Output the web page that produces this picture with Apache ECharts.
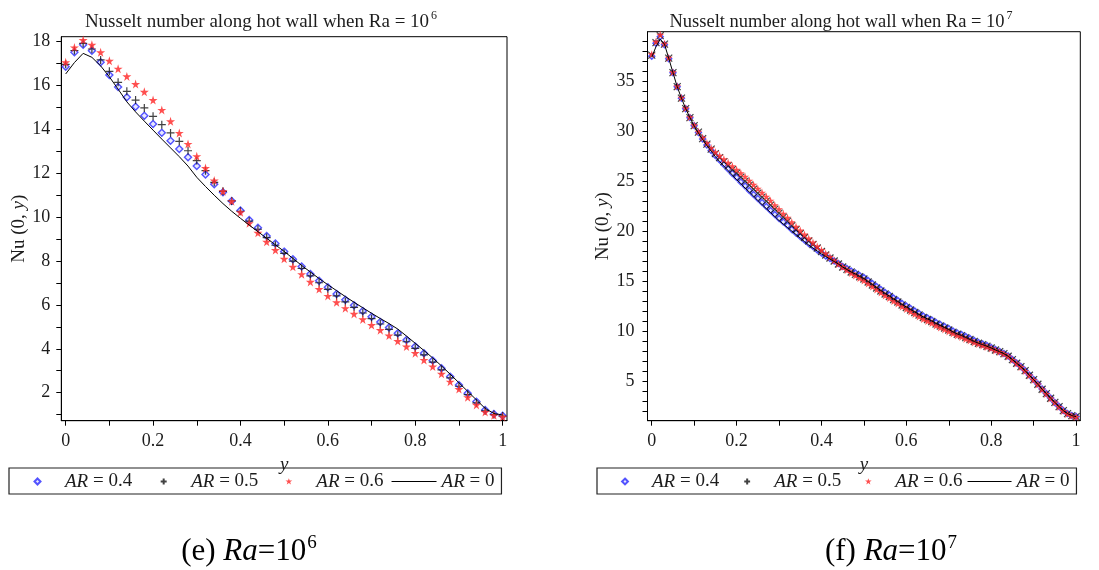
<!DOCTYPE html>
<html>
<head>
<meta charset="utf-8">
<script src="https://cdn.jsdelivr.net/npm/echarts@6/dist/echarts.min.js"></script>
<style>
  html, body { margin: 0; padding: 0; background: #fff; }
  #chart { width: 1099px; height: 570px; }
</style>
</head>
<body>
<div id="chart"></div>
<script>
// y positions along the hot wall
const yPos6 = [0,0.02,0.04,0.06,0.08,0.1,0.12,0.14,0.16,0.18,0.2,0.22,0.24,0.26,0.28,0.3,0.32,0.34,0.36,0.38,0.4,0.42,0.44,0.46,0.48,0.5,0.52,0.54,0.56,0.58,0.6,0.62,0.64,0.66,0.68,0.7,0.72,0.74,0.76,0.78,0.8,0.82,0.84,0.86,0.88,0.9,0.92,0.94,0.96,0.98,1];
const yPos7 = [0,0.01,0.02,0.03,0.04,0.05,0.06,0.07,0.08,0.09,0.1,0.11,0.12,0.13,0.14,0.15,0.16,0.17,0.18,0.19,0.2,0.21,0.22,0.23,0.24,0.25,0.26,0.27,0.28,0.29,0.3,0.31,0.32,0.33,0.34,0.35,0.36,0.37,0.38,0.39,0.4,0.41,0.42,0.43,0.44,0.45,0.46,0.47,0.48,0.49,0.5,0.51,0.52,0.53,0.54,0.55,0.56,0.57,0.58,0.59,0.6,0.61,0.62,0.63,0.64,0.65,0.66,0.67,0.68,0.69,0.7,0.71,0.72,0.73,0.74,0.75,0.76,0.77,0.78,0.79,0.8,0.81,0.82,0.83,0.84,0.85,0.86,0.87,0.88,0.89,0.9,0.91,0.92,0.93,0.94,0.95,0.96,0.97,0.98,0.99,1];

// Ra = 10^6
const nu6_ar04 = [16.86,17.52,17.86,17.59,17.07,16.48,15.94,15.47,15.04,14.63,14.25,13.85,13.48,13.11,12.73,12.33,11.95,11.5,11.14,10.74,10.3,9.87,9.52,9.14,8.8,8.43,8.08,7.75,7.41,7.1,6.8,6.5,6.23,5.98,5.72,5.46,5.22,4.97,4.71,4.4,4.1,3.8,3.46,3.11,2.73,2.35,1.97,1.59,1.21,1.03,0.95];
const nu6_ar05 = [16.97,17.6,17.93,17.67,17.17,16.65,16.15,15.74,15.34,14.98,14.6,14.22,13.84,13.46,13.03,12.58,12.12,11.59,11.18,10.74,10.27,9.82,9.45,9.07,8.72,8.35,8.0,7.66,7.32,7.01,6.71,6.41,6.14,5.89,5.63,5.37,5.13,4.88,4.62,4.32,4.02,3.72,3.39,3.04,2.67,2.29,1.91,1.53,1.17,1.0,0.93];
const nu6_ar06 = [17.06,17.74,18.08,17.86,17.52,17.13,16.77,16.42,16.07,15.72,15.34,14.89,14.37,13.84,13.34,12.78,12.24,11.67,11.18,10.73,10.22,9.72,9.29,8.88,8.5,8.1,7.74,7.4,7.05,6.72,6.41,6.12,5.85,5.59,5.34,5.08,4.85,4.6,4.35,4.1,3.8,3.49,3.19,2.86,2.5,2.16,1.79,1.44,1.12,0.97,0.9];
const nu6_ar0 = [16.53,17.05,17.47,17.29,16.9,16.4,15.84,15.26,14.8,14.38,13.97,13.56,13.16,12.76,12.33,11.82,11.4,11.0,10.62,10.27,9.95,9.64,9.34,9.04,8.74,8.44,8.12,7.8,7.5,7.2,6.92,6.65,6.38,6.12,5.87,5.62,5.38,5.15,4.9,4.58,4.25,3.92,3.58,3.22,2.84,2.45,2.06,1.67,1.28,1.05,0.98];

// Ra = 10^7
const nu7_ar04 = [37.55,38.85,39.5,38.7,37.3,35.9,34.5,33.35,32.3,31.4,30.6,29.9,29.25,28.65,28.1,27.6,27.15,26.7,26.25,25.8,25.4,24.95,24.55,24.1,23.7,23.3,22.9,22.5,22.1,21.7,21.3,20.95,20.6,20.2,19.85,19.5,19.15,18.8,18.5,18.15,17.85,17.55,17.3,17.05,16.8,16.5,
  16.3,16.05,15.85,15.6,15.4,15.1,14.8,14.5,14.2,13.9,13.65,13.35,13.1,12.8,12.55,12.3,12.05,11.8,11.55,11.35,11.15,10.9,10.7,10.5,10.3,10.05,9.85,9.7,9.5,9.3,9.1,8.9,8.75,8.6,8.4,8.2,8.0,7.8,7.55,7.2,6.85,6.5,6.1,5.65,5.2,4.75,4.25,3.8,3.35,2.9,2.5,2.1,1.8,1.6,1.5];
const nu7_ar05 = [37.65,38.9,39.6,38.75,37.35,35.9,34.5,33.35,32.3,31.4,30.6,29.95,29.3,28.75,28.25,27.8,27.4,27.0,26.6,26.2,25.85,25.45,25.05,24.65,24.25,23.85,23.45,23.05,22.65,22.25,21.85,21.45,21.05,20.6,20.2,19.8,19.4,19.05,18.7,18.35,18.0,17.65,17.35,17.05,16.75,16.45,
  16.22,15.95,15.72,15.48,15.25,14.95,14.65,14.35,14.05,13.75,13.5,13.2,12.95,12.65,12.4,12.15,11.9,11.65,11.4,11.2,11.0,10.75,10.55,10.35,10.15,9.92,9.72,9.58,9.38,9.2,9.0,8.82,8.68,8.52,8.35,8.15,7.98,7.78,7.52,7.18,6.82,6.48,6.08,5.62,5.18,4.72,4.22,3.78,3.32,2.9,2.48,2.08,1.78,1.58,1.48];
const nu7_ar06 = [37.75,39.0,39.7,38.8,37.4,35.95,34.55,33.4,32.35,31.45,30.65,30.0,29.4,28.85,28.35,27.95,27.6,27.25,26.9,26.55,26.2,25.85,25.5,25.1,24.7,24.3,23.9,23.5,23.1,22.65,22.25,21.8,21.4,20.95,20.5,20.1,19.7,19.3,18.9,18.5,18.15,17.8,17.45,17.1,16.75,16.45,
  16.15,15.85,15.6,15.35,15.1,14.8,14.5,14.2,13.9,13.6,13.35,13.05,12.8,12.5,12.25,12.0,11.75,11.5,11.25,11.05,10.85,10.6,10.4,10.2,10.0,9.8,9.6,9.45,9.25,9.1,8.9,8.75,8.6,8.45,8.3,8.1,7.95,7.75,7.5,7.15,6.8,6.45,6.05,5.6,5.15,4.7,4.2,3.75,3.3,2.9,2.45,2.05,1.75,1.55,1.45];
const nu7_ar0 = [37.45,38.5,39.25,38.75,37.35,35.9,34.5,33.35,32.3,31.4,30.55,29.85,29.2,28.6,28.05,27.5,27.0,26.55,26.1,25.65,25.2,24.8,24.35,23.95,23.55,23.1,22.7,22.3,21.9,21.5,21.1,20.75,20.4,20.05,19.7,19.35,19.0,18.65,18.35,18.05,17.75,17.5,17.25,17.0,16.75,16.45,
  16.2,15.95,15.75,15.5,15.3,15.0,14.7,14.4,14.1,13.8,13.55,13.25,13.0,12.7,12.45,12.2,11.95,11.7,11.45,11.25,11.05,10.8,10.6,10.4,10.2,9.95,9.75,9.6,9.4,9.2,9.0,8.82,8.68,8.52,8.35,8.15,7.97,7.77,7.52,7.18,6.82,6.48,6.08,5.62,5.18,4.72,4.22,3.78,3.32,2.9,2.48,2.08,1.78,1.58,1.48];

// ticks
const xTicks = [0,0.1,0.2,0.3,0.4,0.5,0.6,0.7,0.8,0.9,1];
const xLabels = [0,0.2,0.4,0.6,0.8,1];
const y6Ticks = [1,2,3,4,5,6,7,8,9,10,11,12,13,14,15,16,17,18];
const y6Labels = [2,4,6,8,10,12,14,16,18];
const y7Ticks = [2,3,4,5,6,7,8,9,10,11,12,13,14,15,16,17,18,19,20,21,22,23,24,25,26,27,28,29,30,31,32,33,34,35,36,37,38,39];
const y7Labels = [5,10,15,20,25,30,35];

const seriesNames = ['AR = 0.4', 'AR = 0.5', 'AR = 0.6', 'AR = 0'];

const serif = "'Liberation Serif', 'Times New Roman', serif";
const ink = '#1c1c1c';
const starPath = 'path://M50,0 L61,35 L98,35 L68,57 L79,91 L50,70 L21,91 L32,57 L2,35 L39,35 Z';
const plusPath = 'path://M0,5 L10,5 M5,0 L5,10';
const crossPath = 'path://M0,0 L10,10 M10,0 L0,10';

// legend icons: every path spans a 45 x 7 box so the marker sits centred in it
const legDiamond = 'path://M0,3.5 M45,3.5 M22.5,0.5 L25.5,3.5 L22.5,6.5 L19.5,3.5 Z';
const legPlus = 'path://M0,3.5 M45,3.5 M19.5,3.5 L25.5,3.5 M22.5,0.5 L22.5,6.5';
const legStar = 'path://M0,0 M45,7 M22.5,0.2 L23.3,2.6 L25.9,2.6 L23.8,4.1 L24.6,6.6 L22.5,5.1 L20.4,6.6 L21.2,4.1 L19.1,2.6 L21.7,2.6 Z';
const legLine = 'path://M0,0 M45,7 M0,3 L45,3 L45,4 L0,4 Z';

const pairs = (xs, ys) => xs.map((x, i) => [x, ys[i]]);

const chart = echarts.init(document.getElementById('chart'));

const xAxisFor = (gridIndex) => ({
  type: 'value',
  gridIndex,
  min: -0.01,
  max: 1.01,
  name: 'y',
  nameLocation: 'middle',
  nameGap: 25,
  nameTextStyle: { fontFamily: serif, fontSize: 19, fontStyle: 'italic', color: ink },
  axisLine: { onZero: false, lineStyle: { color: '#000', width: 1 } },
  axisTick: { customValues: xTicks, length: 5, lineStyle: { color: '#000' } },
  axisLabel: {
    customValues: xLabels,
    margin: 12,
    fontFamily: serif,
    fontSize: 18,
    color: ink
  },
  splitLine: { show: false }
});

const yAxisFor = (gridIndex, min, max, ticks, labels, gap, margin) => ({
  type: 'value',
  gridIndex,
  min,
  max,
  name: '{r|Nu (0, }{i|y}{r|)}',
  nameLocation: 'middle',
  nameGap: gap,
  nameTextStyle: {
    rich: {
      r: { fontFamily: serif, fontSize: 19, color: ink },
      i: { fontFamily: serif, fontSize: 19, fontStyle: 'italic', color: ink }
    }
  },
  axisLine: { onZero: false, lineStyle: { color: '#000', width: 1 } },
  axisTick: { customValues: ticks, length: 5, lineStyle: { color: '#000' } },
  axisLabel: {
    customValues: labels,
    margin,
    fontFamily: serif,
    fontSize: 18,
    color: ink
  },
  splitLine: { show: false }
});

const seriesFor = (idx, xs, s04, s05, s06, s0, crossSym, size) => [
  {
    name: seriesNames[0], type: 'scatter', xAxisIndex: idx, yAxisIndex: idx,
    symbol: 'diamond', symbolSize: size - 1,
    itemStyle: { color: 'rgba(170,170,255,0.35)', borderColor: '#2a2aff', borderWidth: 1.4 },
    data: pairs(xs, s04)
  },
  {
    name: seriesNames[1], type: 'scatter', xAxisIndex: idx, yAxisIndex: idx,
    symbol: crossSym, symbolSize: size,
    itemStyle: { color: '#000', borderColor: '#111', borderWidth: 1.2 },
    data: pairs(xs, s05)
  },
  {
    name: seriesNames[2], type: 'scatter', xAxisIndex: idx, yAxisIndex: idx,
    symbol: starPath, symbolSize: size + 1,
    itemStyle: { color: '#ff3030', opacity: 0.85 },
    data: pairs(xs, s06)
  },
  {
    name: seriesNames[3], type: 'line', xAxisIndex: idx, yAxisIndex: idx,
    symbol: 'none', smooth: false,
    lineStyle: { color: '#000', width: 1 },
    itemStyle: { color: '#000' },
    data: pairs(xs, s0)
  }
];

const legendFor = (left, itemWidth, itemGap) => ({
  left,
  top: 468,
  orient: 'horizontal',
  padding: [4, 7, 3, 5],
  itemWidth,
  itemHeight: 7,
  itemGap,
  symbolKeepAspect: true,
  borderColor: '#222',
  borderWidth: 1.2,
  data: [
    { name: seriesNames[0], icon: legDiamond },
    { name: seriesNames[1], icon: legPlus },
    { name: seriesNames[2], icon: legStar },
    { name: seriesNames[3], icon: legLine, itemStyle: { color: '#000' } }
  ],
  formatter: (name) => '{i|AR}{r|' + name.slice(2) + '}',
  textStyle: {
    rich: {
      i: { fontFamily: serif, fontSize: 19, fontStyle: 'italic', color: ink, lineHeight: 19 },
      r: { fontFamily: serif, fontSize: 19, color: ink, lineHeight: 19 }
    }
  }
});

const titleRich = (size) => ({
  a: { fontFamily: serif, fontSize: size, fontWeight: 'normal', color: ink, lineHeight: 24 },
  s: { fontFamily: serif, fontSize: 12, fontWeight: 'normal', color: ink, lineHeight: 12, verticalAlign: 'top', padding: [0, 0, 0, 2] }
});
const capRich = {
  a: { fontFamily: serif, fontSize: 31, fontWeight: 'normal', color: '#000', lineHeight: 36 },
  i: { fontFamily: serif, fontSize: 31, fontWeight: 'normal', fontStyle: 'italic', color: '#000', lineHeight: 36 },
  s: { fontFamily: serif, fontSize: 19, fontWeight: 'normal', color: '#000', lineHeight: 19, verticalAlign: 'top', padding: [0, 0, 0, 1] }
};

const option = {
  animation: false,
  backgroundColor: '#fff',
  title: [
    { text: '{a|Nusselt number along hot wall when Ra = 10}{s|6}', left: 256, top: 5, textAlign: 'center', textStyle: { fontWeight: 'normal', rich: titleRich(19) } },
    { text: '{a|Nusselt number along hot wall when Ra = 10}{s|7}', left: 836, top: 5, textAlign: 'center', textStyle: { fontWeight: 'normal', rich: titleRich(18.5) } },
    { text: '{a|(e) }{i|Ra}{a|=10}{s|6}', left: 244, top: 529, textAlign: 'center', textStyle: { fontWeight: 'normal', rich: capRich } },
    { text: '{a|(f) }{i|Ra}{a|=10}{s|7}', left: 886, top: 529, textAlign: 'center', textStyle: { fontWeight: 'normal', rich: capRich } }
  ],
  grid: [
    { left: 61.3, top: 36.7, width: 445.7, height: 384, show: true, borderColor: '#000', borderWidth: 1, backgroundColor: 'transparent' },
    { left: 647.5, top: 31.7, width: 432.8, height: 389, show: true, borderColor: '#000', borderWidth: 1, backgroundColor: 'transparent' }
  ],
  xAxis: [xAxisFor(0), xAxisFor(1)],
  yAxis: [
    yAxisFor(0, 0.72, 18.23, y6Ticks, y6Labels, 31, 11),
    yAxisFor(1, 1.07, 40, y7Ticks, y7Labels, 29, 13)
  ],
  legend: [legendFor(9, 45, 8), legendFor(597, 44, 5)],
  series: [
    ...seriesFor(0, yPos6, nu6_ar04, nu6_ar05, nu6_ar06, nu6_ar0, plusPath, 8),
    ...seriesFor(1, yPos7, nu7_ar04, nu7_ar05, nu7_ar06, nu7_ar0, crossPath, 7)
  ]
};

chart.setOption(option);
</script>
</body>
</html>
